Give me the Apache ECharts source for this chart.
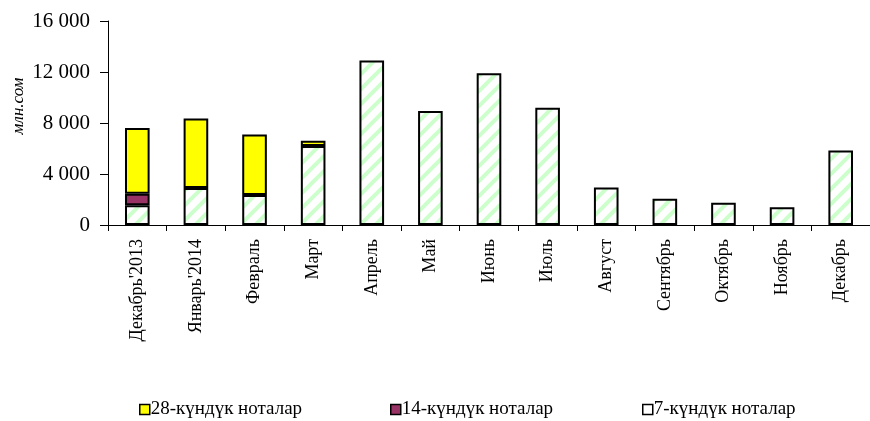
<!DOCTYPE html>
<html><head><meta charset="utf-8">
<script src="https://cdn.jsdelivr.net/npm/echarts@6/dist/echarts.min.js"></script>
<style>html,body{margin:0;padding:0;background:#fff}#c{width:870px;height:421px}</style>
</head><body><div id="c"></div>
<script>
var categories = ["Декабрь'2013","Январь'2014","Февраль","Март","Апрель","Май","Июнь","Июль","Август","Сентябрь","Октябрь","Ноябрь","Декабрь"];
var notes7  = [1550, 2900, 2350, 6200, 12900, 8950, 11900, 9200, 2950, 2050, 1750, 1400, 5850];
var notes14 = [900, 0, 0, 0, 0, 0, 0, 0, 0, 0, 0, 0, 0];
var notes28 = [5150, 5450, 4750, 400, 0, 0, 0, 0, 0, 0, 0, 0, 0];
var names = ['28-күндүк ноталар','14-күндүк ноталар','7-күндүк ноталар'];
var yTicks = [0, 4000, 8000, 12000, 16000];

var P = 15;
var cv = document.createElement('canvas'); cv.width = P; cv.height = P;
var h = cv.getContext('2d');
h.fillStyle = '#ffffff'; h.fillRect(0,0,P,P);
h.strokeStyle = '#ccffcc'; h.lineWidth = 4;
[0, P, 2*P].forEach(function(c){ h.beginPath(); h.moveTo(c+2,-2); h.lineTo(c-P-2,P+2); h.stroke(); });

var serif = '"Liberation Serif","Times New Roman",serif';
var chart = echarts.init(document.getElementById('c'), null, {renderer:'canvas'});
function fmt(v){ return String(v).replace(/\B(?=(\d{3})+(?!\d))/g, ' '); }
function nz(arr){ return arr.map(function(v){ return v === 0 ? null : v; }); }
function legendAt(left, name, color){
  return {left:left, top:400, padding:0, itemWidth:10, itemHeight:10, itemGap:0, icon:'rect',
    textStyle:{fontFamily:serif, fontSize:19, color:'#000', padding:[0,0,0,-4]},
    data:[{name:name, icon:'rect', itemStyle:{color:color, borderColor:'#000', borderWidth:1.5}}]};
}
chart.setOption({
  animation:false,
  grid:{left:108, right:0, top:21, bottom:196, containLabel:false},
  legend:[legendAt(139, names[0], '#ffff00'), legendAt(390, names[1], '#993366'), legendAt(642, names[2], '#ffffff')],
  graphic:[{type:'text', x:19, y:106, rotation:Math.PI/2,
    style:{text:'млн.сом', font:'italic 17px ' + serif, fill:'#000', align:'center', verticalAlign:'middle'}}],
  xAxis:{type:'category', data:categories,
    axisLine:{lineStyle:{color:'#000', width:1}},
    axisTick:{show:true, length:6, lineStyle:{color:'#000'}},
    axisLabel:{rotate:90, interval:0, color:'#000', fontFamily:serif, fontSize:18, margin:14}},
  yAxis:{type:'value', min:yTicks[0], max:yTicks[yTicks.length-1], interval:4000,
    axisLine:{show:true, lineStyle:{color:'#000', width:1}},
    axisTick:{show:true, length:8, lineStyle:{color:'#000'}},
    splitLine:{show:false},
    axisLabel:{color:'#000', fontFamily:serif, fontSize:21, margin:18, formatter:fmt}},
  series:[
    {name:names[2], type:'bar', stack:'a', data:nz(notes7), barWidth:'42%',
      itemStyle:{color:{image:cv, repeat:'repeat'}, borderColor:'#000', borderWidth:2}},
    {name:names[1], type:'bar', stack:'a', data:nz(notes14), barWidth:'42%',
      itemStyle:{color:'#993366', borderColor:'#000', borderWidth:2}},
    {name:names[0], type:'bar', stack:'a', data:nz(notes28), barWidth:'42%',
      itemStyle:{color:'#ffff00', borderColor:'#000', borderWidth:2}}
  ]
});
</script></body></html>
